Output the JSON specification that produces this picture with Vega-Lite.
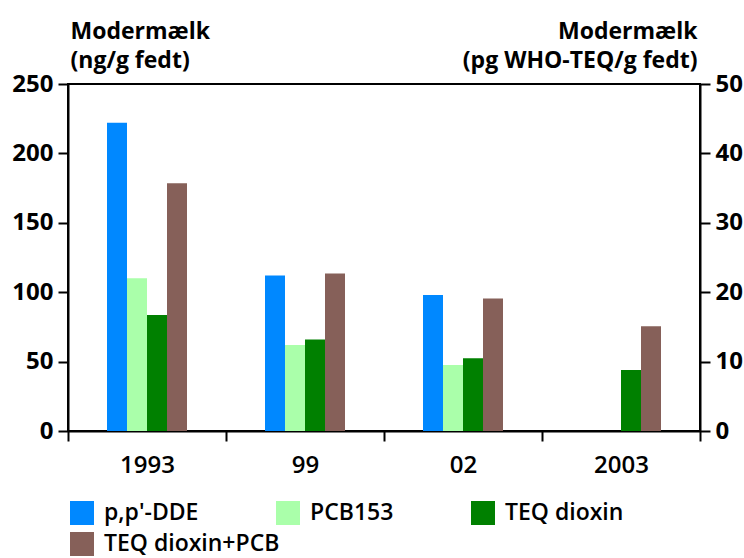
{
  "$schema": "https://vega.github.io/schema/vega-lite/v6.json",
  "autosize": {"type": "none"},
  "padding": {"left": 68, "top": 84, "right": 44, "bottom": 127},
  "width": 632,
  "height": 347,
  "background": "white",
  "config": {
    "view": {"stroke": "black", "strokeWidth": 2},
    "font": "Open Sans",
    "axis": {
      "domainColor": "black", "domainWidth": 2,
      "tickColor": "black", "tickWidth": 2, "tickSize": 10,
      "labelFont": "Open Sans", "labelFontWeight": "bold", "labelFontSize": 24, "labelColor": "black",
      "titleFont": "Open Sans", "titleFontWeight": "bold", "titleFontSize": 23, "titleColor": "black",
      "grid": false
    },
    "legend": {
      "labelFont": "Open Sans", "labelFontSize": 23, "labelFontWeight": 600, "labelColor": "black",
      "labelOffset": 10, "labelLimit": 400, "symbolType": "square", "symbolSize": 576,
      "symbolStrokeWidth": 0, "symbolOpacity": 1, "title": null
    }
  },
  "data": {"values": [
    {"year": "1993", "series": "p,p'-DDE", "unit": "ng", "value": 222},
    {"year": "1993", "series": "PCB153", "unit": "ng", "value": 110},
    {"year": "1993", "series": "TEQ dioxin", "unit": "teq", "value": 16.7},
    {"year": "1993", "series": "TEQ dioxin+PCB", "unit": "teq", "value": 35.7},
    {"year": "99", "series": "p,p'-DDE", "unit": "ng", "value": 112},
    {"year": "99", "series": "PCB153", "unit": "ng", "value": 62},
    {"year": "99", "series": "TEQ dioxin", "unit": "teq", "value": 13.2},
    {"year": "99", "series": "TEQ dioxin+PCB", "unit": "teq", "value": 22.7},
    {"year": "02", "series": "p,p'-DDE", "unit": "ng", "value": 98},
    {"year": "02", "series": "PCB153", "unit": "ng", "value": 47.5},
    {"year": "02", "series": "TEQ dioxin", "unit": "teq", "value": 10.5},
    {"year": "02", "series": "TEQ dioxin+PCB", "unit": "teq", "value": 19.1},
    {"year": "2003", "series": "TEQ dioxin", "unit": "teq", "value": 8.8},
    {"year": "2003", "series": "TEQ dioxin+PCB", "unit": "teq", "value": 15.1}
  ]},
  "encoding": {
    "x": {
      "field": "year", "type": "nominal", "sort": ["1993", "99", "02", "2003"],
      "scale": {"domain": ["1993", "99", "02", "2003"], "paddingInner": 0, "paddingOuter": 0},
      "axis": {"title": null, "labelAngle": 0, "tickBand": "extent", "labelPadding": 12, "labelFontWeight": 600}
    },
    "xOffset": {
      "field": "series", "type": "nominal",
      "scale": {"domain": ["_a", "p,p'-DDE", "PCB153", "TEQ dioxin", "TEQ dioxin+PCB", "_b"], "paddingInner": 0, "paddingOuter": 0.95}
    }
  },
  "layer": [
    {
      "transform": [{"filter": "datum.unit === 'ng'"}],
      "mark": {"type": "bar"},
      "encoding": {
        "fill": {
          "field": "series", "type": "nominal",
          "scale": {"domain": ["p,p'-DDE", "PCB153", "TEQ dioxin"], "range": ["#0088ff", "#aaffaa", "#008000"]},
          "legend": {"orient": "none", "legendX": 2, "legendY": 417, "direction": "horizontal", "columns": 3, "columnPadding": 77}
        },
        "y": {
          "field": "value", "type": "quantitative",
          "scale": {"domain": [0, 250], "nice": false},
          "axis": {
            "orient": "left", "values": [0, 50, 100, 150, 200, 250], "labelPadding": 5,
            "title": ["Modermælk", "(ng/g fedt)"], "titleAngle": 0, "titleAlign": "left", "titleBaseline": "alphabetic",
            "titleX": 2, "titleY": -46, "titleLineHeight": 29
          }
        }
      }
    },
    {
      "transform": [{"filter": "datum.unit === 'teq'"}],
      "encoding": {
        "y": {
          "field": "value", "type": "quantitative",
          "scale": {"domain": [0, 50], "nice": false},
          "axis": {
            "orient": "right", "values": [0, 10, 20, 30, 40, 50], "labelPadding": 5,
            "title": ["Modermælk", "(pg WHO-TEQ/g fedt)"], "titleAngle": 0, "titleAlign": "right", "titleBaseline": "alphabetic",
            "titleX": -3, "titleY": -46, "titleLineHeight": 29
          }
        }
      },
      "layer": [
        {
          "transform": [{"filter": "datum.series === 'TEQ dioxin'"}],
          "mark": {"type": "bar"},
          "encoding": {
            "fill": {"field": "series", "type": "nominal", "legend": null}
          }
        },
        {
          "transform": [{"filter": "datum.series === 'TEQ dioxin+PCB'"}],
          "mark": {"type": "bar"},
          "encoding": {
            "color": {
              "field": "series", "type": "nominal",
              "scale": {"domain": ["TEQ dioxin+PCB"], "range": ["#866059"]},
              "legend": {"orient": "none", "legendX": 2, "legendY": 448}
            }
          }
        }
      ]
    }
  ],
  "resolve": {"scale": {"y": "independent"}, "axis": {"y": "independent"}}
}
